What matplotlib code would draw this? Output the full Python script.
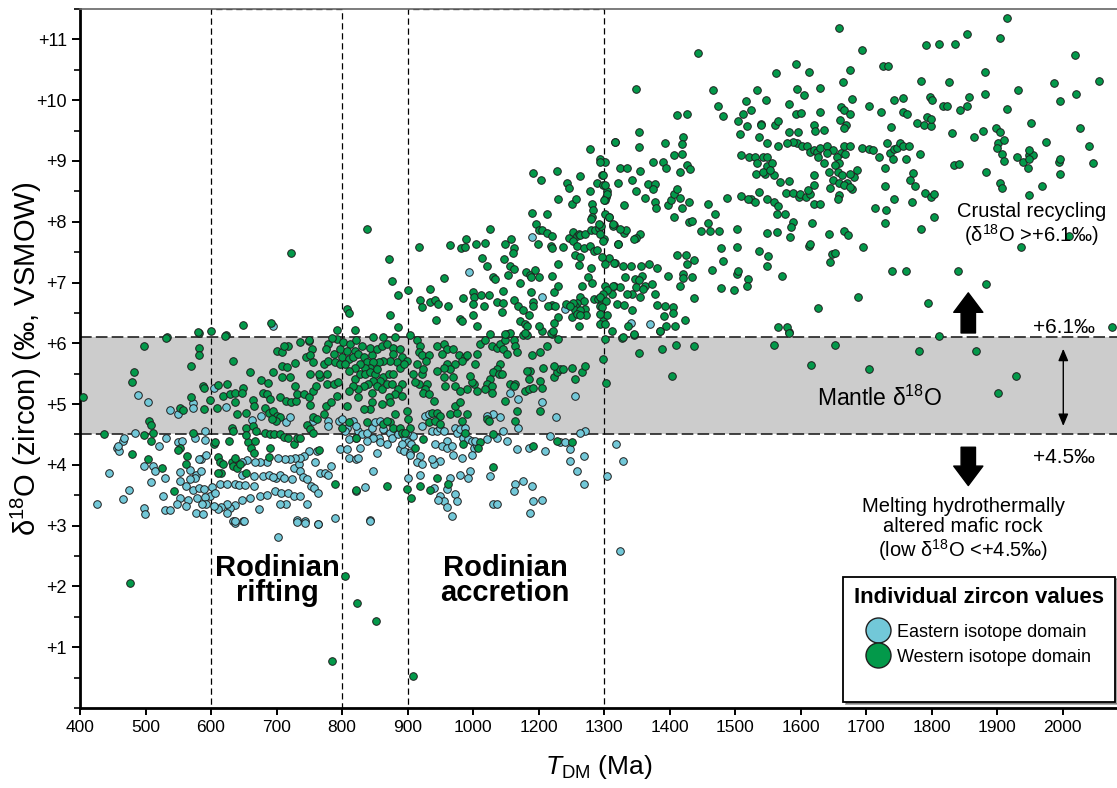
import numpy as np
import matplotlib
matplotlib.use('Agg')
import matplotlib.pyplot as plt
from matplotlib.patches import Rectangle
from matplotlib.lines import Line2D
from matplotlib.ticker import MultipleLocator

# --- data: (T_DM in Ma, d18O zircon in permil) ---
east_rift = [
    (488, 5.15), (504, 5.04), (537, 4.90), (550, 4.83), (573, 5.01), (573, 4.94), (591, 4.56), (604, 5.27),
    (623, 4.95), (677, 4.80), (662, 4.73), (715, 4.70), (720, 4.79), (756, 4.72), (779, 4.72), (779, 4.64),
    (796, 4.72), (484, 4.53), (465, 4.40), (456, 4.27), (460, 4.23), (497, 3.98), (512, 3.98), (520, 4.31),
    (531, 4.44), (550, 4.37), (555, 4.39), (576, 4.45), (591, 4.41), (445, 3.87), (426, 3.36), (465, 3.44),
    (475, 3.58), (498, 3.29), (499, 3.19), (527, 3.49), (530, 3.25), (537, 3.26), (508, 3.72), (530, 3.78),
    (553, 3.89), (553, 3.73), (568, 3.91), (577, 3.84), (584, 3.90), (584, 4.09), (593, 4.16), (581, 4.09),
    (576, 3.79), (568, 3.76), (562, 3.65), (573, 3.58), (581, 3.62), (589, 3.60), (599, 3.49), (601, 3.64),
    (591, 3.47), (606, 3.53), (614, 3.68), (624, 3.69), (637, 3.68), (642, 3.67), (652, 3.67), (665, 3.65),
    (660, 3.46), (647, 3.43), (637, 3.34), (629, 3.29), (624, 3.35), (616, 3.31), (611, 3.27), (604, 3.33),
    (593, 3.35), (586, 3.35), (578, 3.46), (565, 3.43), (562, 3.32), (552, 3.46), (548, 3.35), (577, 3.20),
    (588, 3.19), (624, 3.20), (634, 3.08), (637, 3.05), (649, 3.08), (674, 3.27), (675, 3.49), (685, 3.51),
    (697, 3.57), (707, 3.53), (718, 3.54), (726, 3.49), (736, 3.48), (746, 3.35), (744, 3.08), (731, 3.09),
    (715, 3.35), (705, 3.35), (699, 3.79), (705, 3.84), (712, 3.79), (723, 3.76), (726, 3.95), (735, 4.01),
    (736, 3.90), (741, 3.80), (746, 3.76), (752, 3.65), (757, 3.62), (764, 3.54), (766, 3.87), (774, 3.87),
    (779, 3.84), (783, 3.98), (759, 4.05), (762, 4.23), (750, 4.22), (742, 4.15), (736, 4.12), (728, 4.12),
    (721, 4.09), (713, 4.09), (703, 4.12), (685, 4.04), (680, 3.82), (689, 3.83), (694, 3.80), (675, 4.04),
    (667, 4.04), (655, 4.08), (647, 4.04), (648, 3.84), (665, 3.82), (764, 3.03), (789, 3.12), (797, 4.26),
    (458, 4.31), (467, 4.45), (515, 3.90), (703, 2.82), (637, 3.07), (650, 3.07), (731, 3.06), (743, 3.04),
    (763, 3.02), (695, 6.29),
]
east_accretion = [
    (810, 4.12), (822, 4.09), (825, 4.56), (822, 4.45), (800, 4.75), (807, 4.61), (810, 4.42), (817, 4.72),
    (822, 4.64), (805, 4.56), (807, 4.26), (825, 4.12), (828, 4.28), (830, 4.50), (838, 4.53), (845, 4.61),
    (850, 4.70), (858, 4.72), (863, 4.59), (873, 4.53), (856, 4.45), (848, 4.45), (838, 4.39), (853, 4.20),
    (858, 4.37), (868, 4.34), (876, 4.45), (886, 4.50), (889, 4.26), (894, 4.23), (896, 4.45), (901, 4.37),
    (906, 4.34), (909, 4.48), (899, 4.53), (904, 4.20), (919, 4.15), (914, 4.04), (922, 4.01), (919, 3.84),
    (922, 4.64), (927, 4.81), (932, 4.83), (937, 4.56), (945, 4.56), (950, 4.61), (955, 4.56), (960, 4.39),
    (942, 4.34), (952, 4.31), (960, 4.28), (968, 4.31), (970, 4.17), (973, 4.61), (975, 4.53), (980, 4.59),
    (988, 4.61), (985, 4.45), (993, 4.42), (998, 4.39), (1002, 4.28), (1012, 4.31), (998, 4.17), (1006, 4.39),
    (1042, 4.42), (1072, 4.45), (1104, 4.39), (1092, 4.56), (1082, 4.78), (1062, 4.83), (1042, 4.81),
    (1138, 4.61), (1138, 5.08), (1114, 5.19), (1205, 5.03), (1227, 4.79), (1218, 4.48), (1256, 5.14),
    (1271, 4.56), (1263, 4.53), (1233, 4.37), (1241, 4.37), (1248, 4.26), (1210, 4.23), (1170, 4.28),
    (1134, 4.26), (1248, 4.06), (1269, 4.15), (1258, 3.90), (1269, 3.68), (1154, 3.73), (1128, 3.68),
    (1124, 3.57), (1180, 3.65), (1205, 3.43), (1184, 3.40), (1174, 3.21), (1062, 3.35), (1072, 3.35),
    (1052, 3.82), (995, 3.90), (993, 3.79), (980, 3.84), (965, 3.79), (960, 3.60), (973, 3.52), (975, 3.41),
    (950, 3.49), (955, 3.40), (960, 3.30), (968, 3.16), (947, 3.43), (940, 3.62), (950, 4.06), (940, 4.01),
    (937, 4.09), (901, 3.79), (848, 3.90), (843, 3.10), (835, 3.63), (822, 3.57), (904, 4.17), (891, 4.34),
    (983, 4.12), (1180, 7.75), (994, 7.17), (1206, 6.77), (1240, 6.57), (842, 3.07),
]
east_old = [
    (1304, 3.82), (1318, 4.34), (1329, 4.06), (1325, 2.58), (1341, 6.34), (1370, 6.31),
]

west_rift = [
    (404, 5.11), (533, 6.10), (498, 5.96), (582, 5.93), (582, 5.80), (570, 5.63), (482, 5.52), (480, 5.37),
    (633, 5.71), (659, 5.52), (695, 5.52), (624, 5.33), (611, 5.32), (587, 5.30), (589, 5.26), (570, 5.11),
    (590, 4.92), (552, 4.93), (557, 4.90), (599, 5.06), (609, 4.94), (619, 5.14), (629, 5.16), (637, 5.19),
    (649, 5.26), (648, 5.19), (636, 5.03), (639, 4.83), (654, 4.86), (664, 5.06), (665, 4.97), (679, 5.19),
    (685, 5.16), (690, 5.08), (676, 5.40), (687, 5.34), (682, 4.94), (689, 4.86), (695, 4.89), (701, 4.81),
    (705, 4.78), (699, 4.72), (693, 4.75), (705, 5.11), (715, 5.05), (722, 5.03), (730, 5.05), (731, 5.17),
    (728, 5.30), (742, 5.16), (750, 5.11), (756, 5.22), (761, 5.30), (751, 4.99), (756, 4.78), (746, 4.66),
    (751, 4.59), (762, 4.75), (772, 4.83), (776, 4.97), (783, 5.03), (792, 5.14), (767, 5.44), (777, 5.33),
    (787, 5.33), (794, 5.36), (777, 5.50), (772, 5.66), (778, 5.71), (789, 5.69), (797, 5.66), (787, 5.82),
    (797, 5.91), (792, 6.07), (779, 5.99), (776, 5.91), (700, 5.88), (708, 5.85), (718, 5.96), (711, 5.95),
    (736, 6.02), (749, 6.04), (754, 5.91), (745, 5.77), (751, 5.80), (756, 5.69), (709, 5.63), (716, 5.61),
    (728, 5.68), (708, 5.44), (721, 5.44), (751, 5.49), (765, 5.49), (623, 6.13), (581, 6.17), (437, 4.51),
    (498, 4.49), (511, 4.53), (506, 4.72), (509, 4.66), (509, 4.40), (552, 4.28), (549, 4.25), (479, 4.18),
    (504, 4.09), (525, 3.95), (573, 4.53), (604, 4.34), (606, 4.37), (627, 4.39), (632, 4.61), (634, 4.56),
    (654, 4.61), (664, 4.64), (669, 4.56), (657, 4.37), (667, 4.39), (653, 4.49), (682, 4.53), (690, 4.50),
    (696, 4.50), (705, 4.50), (712, 4.46), (718, 4.45), (726, 4.34), (731, 4.45), (736, 4.45), (756, 4.53),
    (765, 4.25), (690, 4.28), (661, 4.27), (665, 4.20), (563, 4.14), (562, 4.01), (610, 4.13), (614, 4.04),
    (619, 4.01), (632, 4.04), (634, 3.98), (639, 3.95), (644, 4.01), (654, 3.87), (637, 4.12), (616, 3.87),
    (610, 3.87), (689, 4.13), (789, 3.69), (543, 3.57), (722, 7.49), (692, 6.34), (649, 6.30), (600, 6.20),
    (580, 6.18), (532, 6.09), (622, 6.12), (749, 6.05), (784, 6.08), (792, 6.22), (476, 2.05), (784, 0.77),
]
west_accretion = [
    (802, 6.02), (812, 5.99), (822, 6.05), (830, 5.96), (820, 5.88), (807, 5.88), (800, 5.77), (810, 5.74),
    (817, 5.77), (825, 5.82), (833, 5.77), (838, 5.69), (845, 5.80), (843, 5.93), (853, 5.91), (861, 5.96),
    (868, 5.99), (878, 5.93), (881, 6.10), (863, 6.10), (848, 6.10), (888, 5.91), (891, 5.77), (899, 5.71),
    (884, 5.69), (878, 5.82), (873, 5.71), (863, 5.71), (856, 5.69), (848, 5.69), (843, 5.60), (835, 5.60),
    (828, 5.66), (820, 5.60), (810, 5.55), (805, 5.66), (820, 5.41), (828, 5.49), (835, 5.49), (843, 5.52),
    (850, 5.49), (853, 5.58), (863, 5.44), (858, 5.38), (848, 5.38), (840, 5.33), (833, 5.30), (825, 5.25),
    (817, 5.30), (810, 5.22), (853, 5.30), (861, 5.25), (868, 5.33), (876, 5.33), (871, 5.49), (878, 5.49),
    (889, 5.60), (894, 5.66), (891, 5.33), (886, 5.25), (881, 5.16), (891, 5.14), (871, 5.11), (873, 5.03),
    (861, 5.00), (845, 5.03), (843, 4.92), (833, 4.92), (825, 5.11), (845, 5.19), (807, 4.97), (881, 4.83),
    (899, 4.89), (901, 4.75), (873, 4.70), (878, 4.61), (889, 4.61), (891, 4.53), (904, 4.61), (896, 4.53),
    (838, 4.70), (863, 4.67), (868, 4.72), (810, 4.70), (822, 4.45), (800, 4.61), (904, 6.13), (914, 6.05),
    (919, 5.96), (917, 5.85), (922, 5.80), (932, 5.80), (928, 5.71), (945, 5.96), (955, 5.99), (960, 5.91),
    (970, 5.91), (952, 5.82), (978, 5.80), (988, 5.77), (990, 5.81), (983, 5.71), (973, 5.66), (960, 5.66),
    (965, 5.58), (955, 5.59), (914, 5.66), (909, 5.49), (922, 5.49), (924, 5.58), (945, 5.55), (955, 5.44),
    (970, 5.44), (973, 5.30), (957, 5.29), (930, 5.33), (927, 5.25), (924, 5.19), (917, 5.33), (912, 5.36),
    (932, 5.16), (940, 5.05), (937, 4.86), (945, 4.86), (950, 4.81), (932, 4.70), (942, 4.72), (950, 4.67),
    (965, 4.83), (975, 4.86), (973, 4.97), (980, 5.03), (990, 4.83), (983, 4.72), (988, 4.53), (1002, 5.33),
    (990, 5.25), (980, 5.22), (998, 5.36), (996, 5.47), (1012, 5.82), (1006, 5.66), (1022, 5.99), (1036, 6.05),
    (1058, 5.96), (1072, 5.93), (1082, 5.99), (1098, 6.05), (1124, 6.05), (1128, 5.96), (1092, 5.91),
    (1104, 5.82), (1052, 6.16), (1104, 6.16), (1154, 6.13), (1164, 6.13), (1205, 6.21), (1220, 6.16),
    (1230, 6.07), (1213, 5.96), (1202, 5.85), (1180, 5.80), (1134, 5.85), (1082, 5.66), (1072, 5.58),
    (1062, 5.52), (1078, 5.49), (1088, 5.49), (1052, 5.41), (1042, 5.33), (1058, 5.30), (1036, 5.25),
    (1012, 5.22), (1058, 5.19), (1114, 5.33), (1128, 5.33), (1124, 5.30), (1098, 5.05), (1134, 4.89),
    (1128, 4.72), (1158, 5.22), (1170, 5.25), (1184, 5.27), (1170, 5.41), (1174, 5.55), (1164, 5.55),
    (1202, 5.38), (1205, 5.27), (1207, 5.60), (1223, 5.44), (1228, 5.52), (1233, 5.58), (1238, 5.58),
    (1251, 5.60), (1256, 5.41), (1266, 5.52), (1271, 5.63), (1223, 5.63), (1202, 4.89), (1042, 4.75),
    (1048, 4.72), (1062, 4.50), (1022, 4.37), (1016, 4.28), (985, 4.34), (923, 4.42), (912, 4.28), (899, 3.60),
    (919, 3.65), (945, 3.79), (962, 3.69), (935, 3.58), (905, 3.46), (1062, 3.97), (822, 3.58), (868, 3.65),
    (1184, 4.31), (1228, 4.39), (1251, 4.37), (1299, 5.74), (1303, 5.35), (804, 2.17), (823, 1.72),
    (852, 1.43), (909, 0.53),
    (838, 7.88), (872, 7.39), (877, 7.02), (886, 6.80), (873, 6.47), (885, 6.27), (808, 6.57), (811, 6.50),
    (820, 6.22), (900, 6.88), (917, 7.59), (934, 6.90), (919, 6.71), (922, 6.60), (934, 6.68), (942, 6.72),
    (946, 6.64), (961, 6.62), (955, 7.08), (943, 6.38), (965, 7.61), (981, 7.57), (988, 7.59), (1010, 7.64),
    (1036, 7.65), (989, 7.72), (1052, 7.88), (1026, 7.41), (1042, 7.27), (985, 6.75), (980, 6.40), (983, 6.36),
    (1000, 6.84), (1002, 6.76), (1000, 6.65), (1000, 6.47), (1012, 6.29), (1034, 6.61), (1024, 6.79),
    (1050, 6.80), (1062, 7.09), (1068, 7.05), (1072, 6.68), (1090, 6.86), (1090, 6.66), (1088, 6.52),
    (1106, 7.13), (1096, 7.39), (1098, 7.64), (1116, 7.72), (1124, 7.56), (1122, 7.49), (1114, 7.28),
    (1124, 7.23), (1144, 6.99), (1124, 6.72), (1138, 6.62), (1154, 6.55), (1172, 6.47), (1144, 6.36),
    (1158, 6.32), (1164, 6.29), (1162, 7.18), (1174, 7.12), (1190, 7.20), (1200, 7.09), (1176, 7.09),
    (1178, 6.84), (1182, 6.68), (1184, 6.61), (1198, 7.63), (1192, 7.97), (1180, 8.15), (1182, 8.81),
    (1204, 8.68), (1213, 8.13), (1201, 7.86), (1205, 7.86), (1213, 7.82), (1220, 7.77), (1219, 7.60),
    (1220, 7.57), (1229, 7.30), (1220, 7.10), (1224, 6.85), (1229, 6.94), (1220, 6.63), (1214, 6.61),
    (1225, 6.62), (1229, 6.44), (1223, 6.33), (1219, 6.17), (1222, 6.20), (1201, 6.29), (1237, 7.58),
    (1228, 8.84), (1229, 8.37), (1244, 8.63), (1246, 8.56), (1251, 8.29), (1257, 8.37), (1264, 8.76),
    (1246, 7.74), (1252, 7.83), (1258, 7.76), (1262, 7.80), (1264, 7.78), (1271, 7.80), (1253, 7.69),
    (1259, 7.60), (1256, 7.45), (1263, 7.42), (1261, 7.29), (1269, 7.56), (1278, 7.60), (1285, 7.52),
    (1289, 7.53), (1280, 7.86), (1286, 7.87), (1293, 7.89), (1295, 7.93), (1293, 7.97), (1278, 8.51),
    (1282, 8.30), (1283, 8.20), (1282, 8.08), (1280, 8.05), (1279, 9.20), (1294, 9.03), (1302, 8.98),
    (1289, 8.63), (1298, 8.61), (1297, 8.77), (1304, 8.50), (1303, 8.40), (1302, 8.36), (1317, 9.32),
    (1280, 7.24), (1276, 7.09), (1282, 6.99), (1267, 6.95), (1263, 6.76), (1269, 6.69), (1271, 6.57),
    (1258, 6.66), (1256, 6.61), (1253, 6.66), (1251, 6.43), (1256, 6.54), (1261, 6.28), (1273, 6.47),
    (1284, 6.73), (1290, 6.73), (1297, 6.68), (1294, 6.62), (1299, 6.37), (1294, 6.32), (1304, 6.46),
    (1302, 6.94), (1315, 6.94), (1312, 6.81), (1300, 7.72), (1307, 8.08), (1315, 7.94), (1316, 7.32),
    (1321, 7.63), (1308, 7.41), (1242, 6.65), (1248, 6.61), (1263, 6.55), (1258, 6.48), (1263, 6.46),
    (1112, 6.17), (1098, 6.15), (1158, 6.17),
]
west_old = [
    (1312, 6.21), (1327, 6.09), (1345, 6.14), (1385, 6.20), (1582, 6.18), (1302, 6.07), (1354, 5.84),
    (1388, 5.91), (1410, 5.97), (1438, 5.95), (1560, 5.97), (1653, 5.97), (1616, 5.64), (1704, 5.57),
    (1404, 5.47), (1781, 5.87), (1867, 5.87), (1929, 5.47), (1902, 5.19),
    (1915, 11.35), (1658, 11.19), (1854, 11.09), (1905, 11.02), (1792, 10.90), (1812, 10.93), (1836, 10.92),
    (1444, 10.77), (1693, 10.83), (1726, 10.56), (1734, 10.57), (2019, 10.75), (1593, 10.60), (1613, 10.46),
    (1562, 10.44), (1675, 10.50), (1882, 10.46), (1349, 10.19), (1466, 10.17), (1534, 10.17), (1595, 10.18),
    (1605, 10.09), (1630, 10.20), (1665, 10.30), (1784, 10.31), (1826, 10.30), (1932, 10.17), (1987, 10.29),
    (2055, 10.31), (1882, 10.10), (1857, 10.06), (1517, 9.98), (1547, 10.00), (1582, 9.94), (1678, 10.02),
    (1742, 10.00), (1757, 10.03), (1797, 10.05), (1801, 10.00), (1817, 9.90), (1824, 9.90), (1844, 9.84),
    (1854, 9.90), (1915, 9.86), (1996, 9.98), (2021, 10.10), (1474, 9.90), (1412, 9.75), (1427, 9.77),
    (1481, 9.74), (1504, 9.65), (1512, 9.77), (1525, 9.84), (1540, 9.60), (1561, 9.59), (1565, 9.66),
    (1593, 9.77), (1601, 9.79), (1629, 9.80), (1662, 9.89), (1666, 9.84), (1660, 9.68), (1670, 9.59),
    (1666, 9.55), (1676, 9.77), (1704, 9.91), (1723, 9.80), (1757, 9.80), (1762, 9.77), (1777, 9.62),
    (1788, 9.59), (1793, 9.73), (1799, 9.58), (1799, 9.69), (1831, 9.46), (1865, 9.40), (1878, 9.49),
    (1898, 9.54), (1905, 9.48), (1952, 9.62), (2026, 9.54), (1975, 9.31), (2040, 9.24), (1902, 9.29),
    (1910, 9.35), (1900, 9.22), (1907, 9.11), (1911, 9.00), (1930, 9.06), (1948, 9.10), (1955, 9.09),
    (1948, 9.18), (1940, 8.98), (1947, 8.89), (1948, 9.04), (1995, 8.99), (1996, 9.03), (1996, 8.78),
    (2047, 8.97), (1883, 8.82), (1834, 8.93), (1842, 8.95), (1904, 8.63), (1908, 8.56), (1948, 8.44),
    (1968, 8.59),
    (1353, 9.48), (1353, 9.23), (1316, 9.31), (1393, 9.29), (1421, 9.40), (1419, 9.28), (1406, 9.09),
    (1419, 9.11), (1390, 8.98), (1375, 8.98), (1395, 8.89), (1426, 8.94), (1431, 8.87), (1416, 8.82),
    (1355, 8.84), (1325, 8.89), (1335, 8.89), (1342, 8.68), (1322, 8.63), (1349, 8.50), (1367, 8.62),
    (1378, 8.62), (1374, 8.54), (1363, 8.39), (1330, 8.27), (1378, 8.32), (1379, 8.22), (1397, 8.27),
    (1402, 8.36), (1406, 8.46), (1412, 8.54), (1416, 8.39), (1419, 8.22), (1429, 8.33), (1406, 8.07),
    (1429, 8.00), (1434, 8.02), (1355, 7.80), (1349, 7.73), (1345, 7.72), (1322, 7.64), (1314, 7.93),
    (1330, 7.81), (1334, 7.86), (1315, 7.32), (1329, 7.28), (1341, 7.27), (1357, 7.27), (1369, 7.31),
    (1381, 7.24), (1332, 7.09), (1347, 7.05), (1358, 7.11), (1353, 7.04), (1349, 6.92), (1363, 6.95),
    (1373, 6.98), (1359, 6.89), (1355, 6.76), (1342, 6.81), (1335, 6.81), (1324, 6.92), (1314, 6.95),
    (1304, 6.87), (1299, 6.81), (1294, 6.76), (1303, 6.70), (1297, 6.59), (1294, 6.48), (1302, 6.31),
    (1319, 6.65), (1330, 6.63), (1342, 6.54), (1336, 6.29), (1345, 6.15), (1329, 6.10),
    (1378, 6.81), (1381, 6.63), (1393, 6.62), (1405, 6.60), (1405, 6.50), (1392, 6.45), (1394, 6.29),
    (1408, 6.28), (1385, 6.21), (1424, 6.38), (1437, 6.74), (1416, 6.95), (1398, 7.11), (1421, 7.14),
    (1434, 7.09), (1438, 7.37), (1425, 7.46), (1412, 7.46), (1426, 7.30), (1420, 7.07), (1448, 7.85),
    (1462, 7.84), (1476, 7.84), (1459, 7.98), (1470, 8.13), (1481, 7.36), (1478, 7.57), (1464, 7.21),
    (1478, 6.91), (1498, 6.87), (1503, 7.14), (1504, 7.19), (1520, 7.06), (1518, 6.94), (1503, 7.59),
    (1503, 7.88), (1459, 8.29), (1488, 8.39), (1509, 8.42), (1524, 8.37), (1531, 8.33), (1537, 8.49),
    (1549, 8.38), (1559, 8.33), (1520, 8.38), (1564, 8.13), (1576, 8.13), (1565, 8.26), (1578, 8.47),
    (1589, 8.47), (1597, 8.40), (1599, 8.46), (1609, 8.41), (1614, 8.46), (1620, 8.30), (1630, 8.29),
    (1588, 7.99), (1572, 7.10), (1617, 7.98), (1644, 7.80), (1666, 7.85), (1673, 7.78), (1696, 7.59),
    (1648, 7.47), (1653, 7.48), (1645, 7.33), (1613, 7.60), (1615, 7.64), (1586, 7.91), (1549, 7.82),
    (1564, 7.83), (1584, 7.75), (1537, 7.52), (1550, 7.43), (1548, 7.27),
    (1509, 9.10), (1521, 9.07), (1530, 9.07), (1542, 9.07), (1549, 9.07), (1533, 8.96), (1549, 8.91),
    (1559, 8.77), (1546, 8.79), (1532, 8.79), (1542, 8.82), (1556, 8.96), (1553, 8.85), (1569, 8.66),
    (1583, 8.67), (1594, 9.29), (1602, 9.24), (1610, 9.24), (1615, 9.15), (1620, 9.18), (1625, 9.15),
    (1630, 9.21), (1640, 9.24), (1650, 9.18), (1661, 9.13), (1666, 9.24), (1676, 9.24), (1668, 9.11),
    (1656, 9.07), (1659, 8.97), (1653, 8.93), (1657, 8.82), (1663, 8.77), (1650, 8.68), (1658, 8.64),
    (1671, 8.64), (1678, 8.54), (1666, 8.60), (1645, 8.55), (1658, 8.44), (1657, 8.38), (1635, 8.96),
    (1643, 8.82), (1620, 8.77), (1612, 8.52), (1620, 8.60), (1627, 9.07), (1640, 9.13),
    (1588, 9.32), (1579, 9.30), (1566, 9.24), (1549, 9.30), (1536, 9.39), (1508, 9.45), (1518, 9.57),
    (1539, 9.59), (1583, 9.48), (1596, 9.48), (1620, 9.59), (1622, 9.50), (1635, 9.51), (1694, 9.22),
    (1705, 9.20), (1711, 9.18), (1719, 9.07), (1732, 9.29), (1738, 9.56), (1736, 9.13), (1741, 9.03),
    (1743, 9.20), (1747, 9.21), (1752, 9.30), (1757, 9.25), (1765, 9.24), (1761, 9.03), (1772, 8.81),
    (1767, 8.68), (1775, 8.59), (1783, 9.11), (1729, 8.89), (1729, 8.59), (1742, 8.37), (1770, 8.33),
    (1790, 8.48), (1799, 8.41), (1803, 8.46), (1803, 8.08), (1784, 7.88), (1714, 8.22), (1730, 8.20),
    (1729, 7.98), (1686, 8.85), (1682, 8.74), (1676, 8.57), (1675, 8.79),
    (1841, 7.19), (1883, 6.98), (1795, 6.67), (1812, 6.12), (1937, 7.58), (2009, 7.77), (2075, 6.27),
    (1739, 7.19), (1761, 7.19), (1687, 6.77), (1626, 6.58), (1566, 6.27), (1579, 6.27), (1583, 6.17),
    (1294, 8.99), (1299, 8.77), (1302, 8.60), (1304, 8.46), (1300, 8.35), (1302, 8.13), (1307, 8.08),
    (1314, 7.97), (1325, 7.88), (1294, 7.80), (1299, 7.69), (1297, 7.42), (1302, 7.31),
]

x_ticks = [400, 500, 600, 700, 800, 900, 1000, 1200, 1300, 1400, 1500, 1600, 1700, 1800, 1900, 2000]
y_ticks = [1, 2, 3, 4, 5, 6, 7, 8, 9, 10, 11]
mantle_low, mantle_high = 4.5, 6.1
windows = [(600, 800), (900, 1300)]

EAST_COLOR = '#72c8d8'
WEST_COLOR = '#03994a'


def to_xy(*groups):
    pts = np.array([p for g in groups for p in g], dtype=float)
    return pts[:, 0], pts[:, 1]


# the published axis jumps from 1000 straight to 1200 at one tick spacing
def _fwd(x):
    x = np.asarray(x, dtype=float)
    return np.where(x <= 1000, x, np.where(x <= 1200, 1000 + (x - 1000) / 2, x - 100))


def _inv(p):
    p = np.asarray(p, dtype=float)
    return np.where(p <= 1000, p, np.where(p <= 1100, 1000 + (p - 1000) * 2, p + 100))


plt.rcParams['font.family'] = ['Liberation Sans', 'DejaVu Sans']
plt.rcParams['mathtext.fontset'] = 'custom'
plt.rcParams['mathtext.rm'] = 'Liberation Sans'
plt.rcParams['mathtext.it'] = 'Liberation Sans:italic'
plt.rcParams['mathtext.bf'] = 'Liberation Sans:bold'

fig = plt.figure(figsize=(11.17, 7.88), dpi=100)
ax = fig.add_axes([80 / 1117, 80 / 788, 1037 / 1117, 699 / 788])
ax.set_xscale('function', functions=(_fwd, _inv))
ax.set_xlim(400, 2083)
ax.set_ylim(0, 11.5)

# mantle band
ax.axhspan(mantle_low, mantle_high, facecolor='#cccccc', edgecolor='none', zorder=0)
for yv in (mantle_low, mantle_high):
    ax.axhline(yv, color='#222222', lw=1.2, ls=(0, (7, 2.5)), zorder=1)

# Rodinia windows
for x0, x1 in windows:
    ax.add_patch(Rectangle((x0, 0), x1 - x0, 11.5, fill=False, ec='k', lw=0.9,
                           ls=(0, (5, 3)), zorder=1.5))

ex, ey = to_xy(east_rift, east_accretion, east_old)
wx, wy = to_xy(west_rift, west_accretion, west_old)
ax.scatter(ex, ey, s=30, c=EAST_COLOR, edgecolors='#1f1f1f', linewidths=0.7, zorder=3)
ax.scatter(wx, wy, s=30, c=WEST_COLOR, edgecolors='#1f1f1f', linewidths=0.7, zorder=3)

# annotations
ax.text(701, 2.1, 'Rodinian\nrifting', ha='center', va='center', fontsize=21,
        fontweight='bold', linespacing=0.88, zorder=4)
ax.text(1098, 2.1, 'Rodinian\naccretion', ha='center', va='center', fontsize=21,
        fontweight='bold', linespacing=0.88, zorder=4)
ax.text(1952, 7.95, 'Crustal recycling\n(δ$^{18}$O >+6.1‰)', ha='center', va='center',
        fontsize=14.5, linespacing=1.05, zorder=4)
ax.text(1848, 2.93, 'Melting hydrothermally\naltered mafic rock\n(low δ$^{18}$O <+4.5‰)',
        ha='center', va='center', fontsize=14.5, linespacing=1.05, zorder=4)
ax.text(1720, 5.1, 'Mantle δ$^{18}$O', ha='center', va='center', fontsize=16.5, zorder=4)
ax.text(2002, 6.26, '+6.1‰', ha='center', va='center', fontsize=15, zorder=4)
ax.text(2002, 4.12, '+4.5‰', ha='center', va='center', fontsize=15, zorder=4)

fat = dict(arrowstyle='simple,head_length=0.5,head_width=0.75,tail_width=0.37',
           mutation_scale=28, fc='k', ec='k', shrinkA=0, shrinkB=0)
ax.annotate('', xy=(1856, 6.83), xytext=(1856, 6.17), arrowprops=fat, zorder=4)
ax.annotate('', xy=(1856, 3.66), xytext=(1856, 4.29), arrowprops=fat, zorder=4)
ax.annotate('', xy=(2001, 4.64), xytext=(2001, 5.91),
            arrowprops=dict(arrowstyle='<|-|>,head_length=0.6,head_width=0.25', lw=1,
                            color='k', shrinkA=0, shrinkB=0, mutation_scale=12), zorder=4)

# axes styling
ax.set_xticks(x_ticks)
ax.set_xticklabels([str(t) for t in x_ticks])
ax.set_yticks(y_ticks)
ax.set_yticklabels(['+%d' % t for t in y_ticks])
ax.yaxis.set_minor_locator(MultipleLocator(0.5))
ax.tick_params(axis='y', which='major', direction='out', length=6, width=1.4, labelsize=13)
ax.tick_params(axis='y', which='minor', direction='out', length=4, width=1.2)
ax.tick_params(axis='x', which='major', direction='out', length=5, width=1.4, labelsize=12.5)
ax.spines['left'].set_linewidth(2)
ax.spines['bottom'].set_linewidth(2)
ax.spines['top'].set_color('0.4')
ax.spines['top'].set_linewidth(1.2)
ax.spines['right'].set_visible(False)

ax.set_ylabel('δ$^{18}$O (zircon) (‰, VSMOW)', fontsize=21)
ax.yaxis.set_label_coords(-0.035, 0.5)
ax.set_xlabel(r'$\mathit{T}_{\mathrm{DM}}$ (Ma)', fontsize=19, labelpad=13)

handles = [
    Line2D([], [], marker='o', ls='', ms=18, mfc=EAST_COLOR, mec='#1f1f1f', mew=1.0,
           label='Eastern isotope domain'),
    Line2D([], [], marker='o', ls='', ms=18, mfc=WEST_COLOR, mec='#1f1f1f', mew=1.0,
           label='Western isotope domain'),
    Line2D([], [], ls='', marker='', label=' '),   # keeps the empty band at the bottom of the box
]
leg = ax.legend(handles=handles, loc='lower right', bbox_to_anchor=(0.998, 0.009),
                borderaxespad=0, title='Individual zircon values',
                title_fontproperties={'weight': 'bold', 'size': 16},
                fontsize=13, frameon=True, fancybox=False, edgecolor='k', framealpha=1,
                borderpad=0.6, labelspacing=0.45, handletextpad=0.4, handlelength=1.3,
                shadow=True)
leg.get_frame().set_linewidth(1.3)
leg._legend_box.sep = 11
leg.set_zorder(5)

fig.savefig('out.png', dpi=100)
